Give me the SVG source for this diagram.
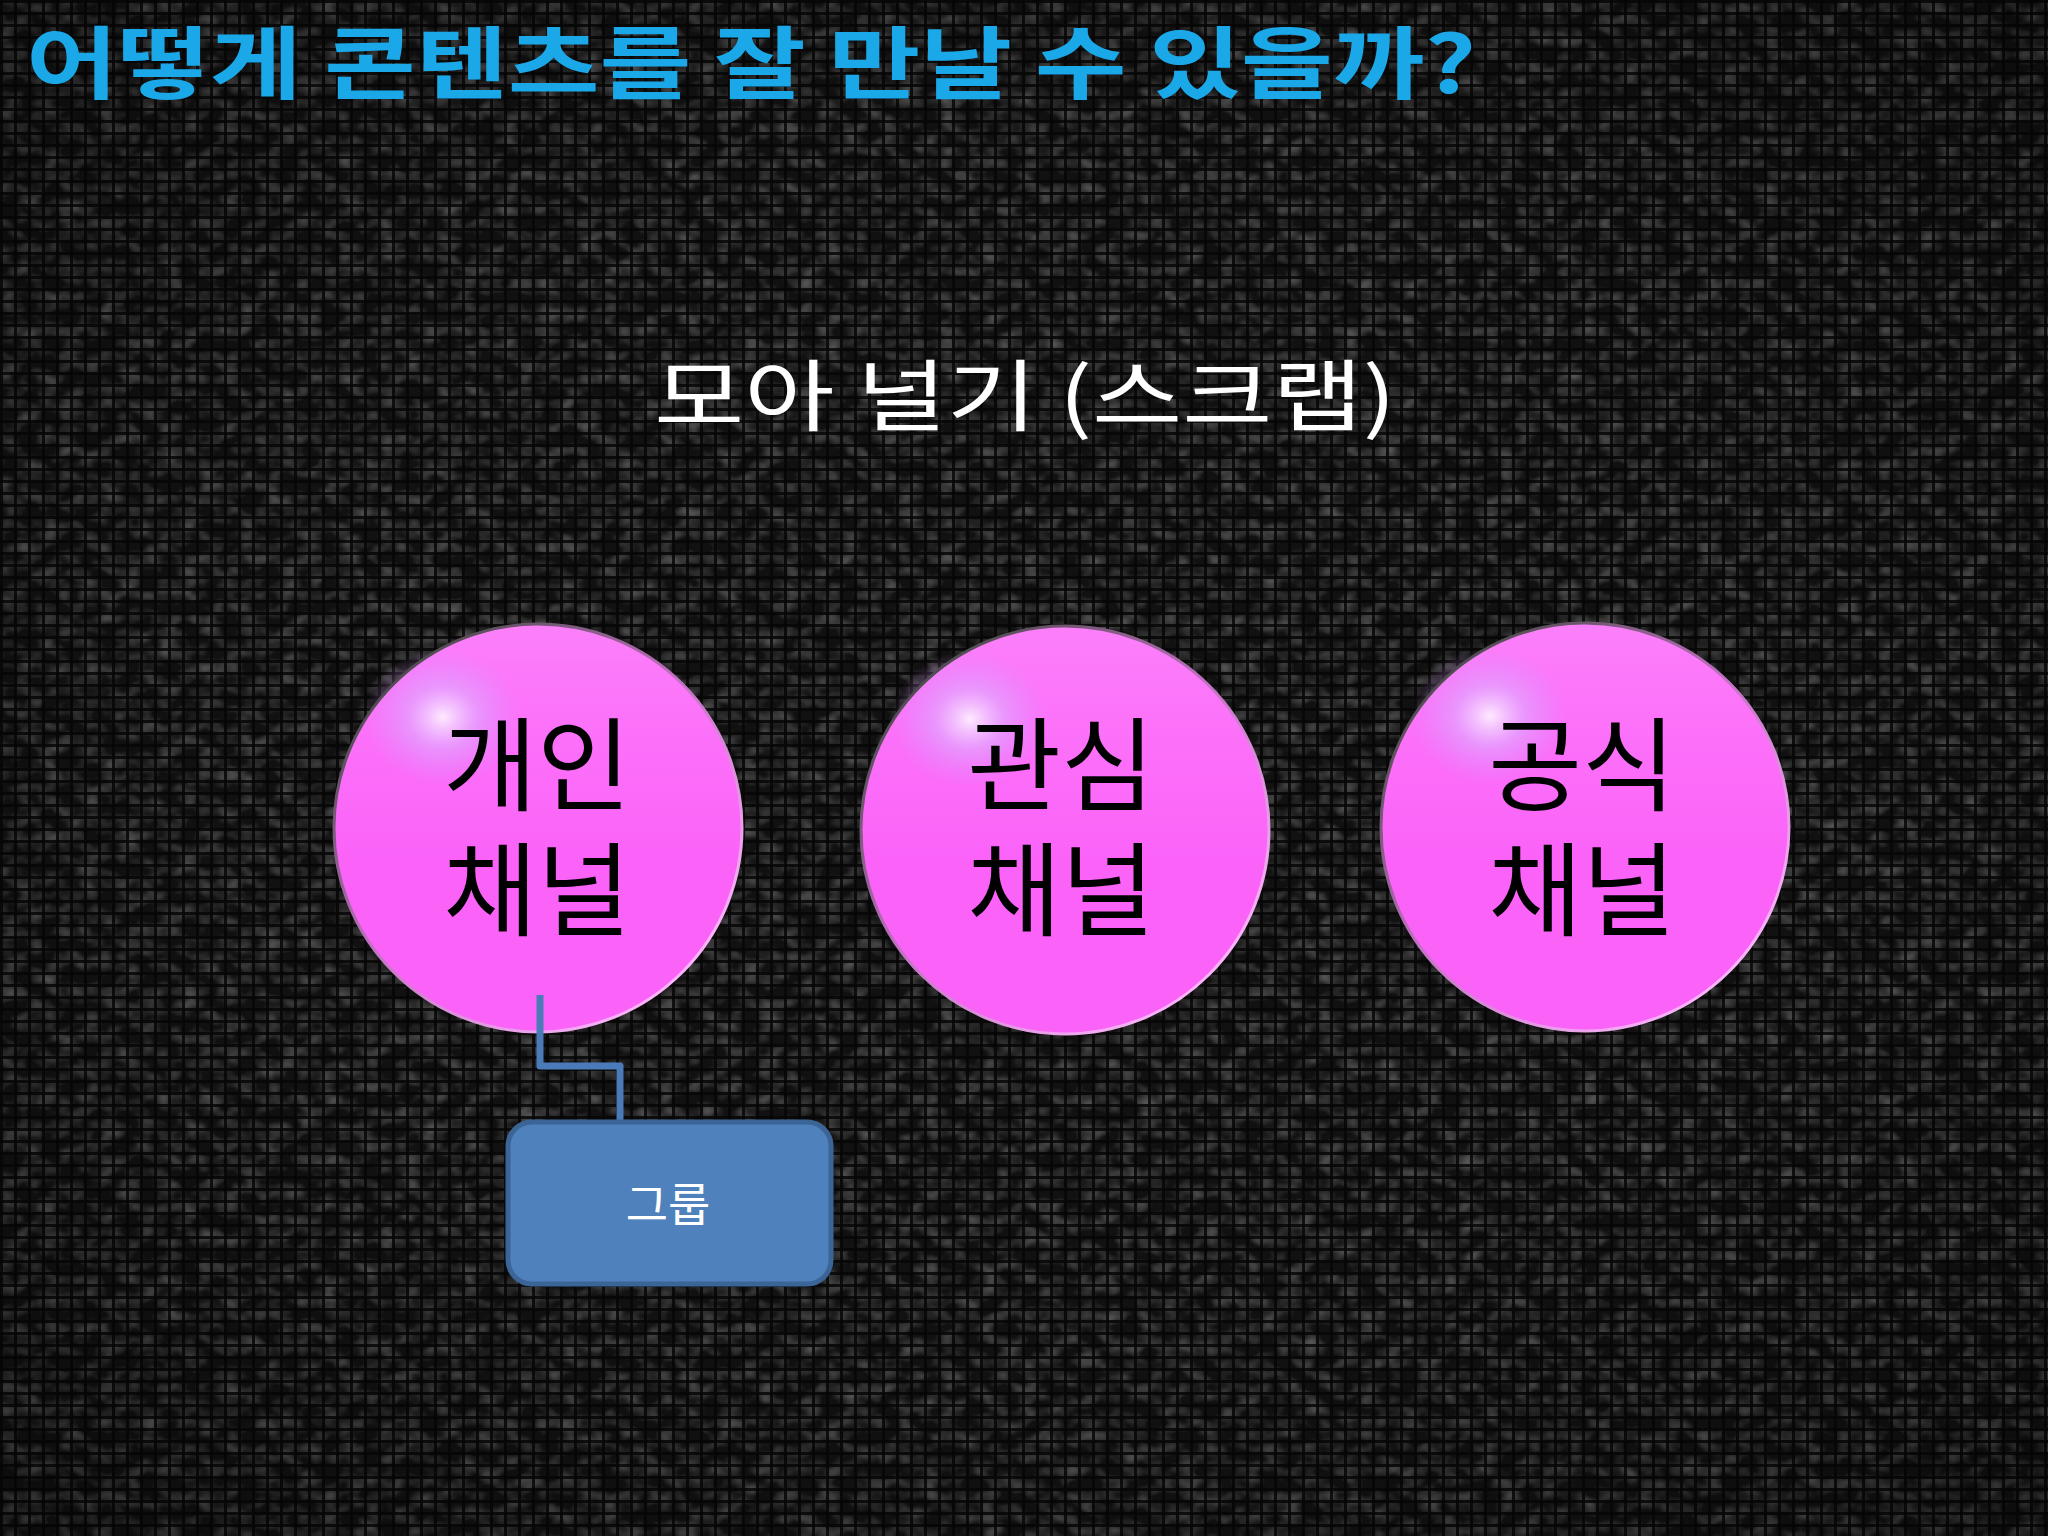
<svg xmlns="http://www.w3.org/2000/svg" width="2048" height="1536" viewBox="0 0 2048 1536">
<style>
.title{font-family:"Noto Sans CJK KR","Liberation Sans",sans-serif;font-weight:bold;font-size:79px;fill:#1aa8e8}
.sub{font-family:"Noto Sans CJK KR","Liberation Sans",sans-serif;font-size:78px;fill:#ffffff}
.ball{font-family:"Noto Sans CJK KR","Liberation Sans",sans-serif;font-size:102px;fill:#000000;text-anchor:middle}
.box{font-family:"Noto Sans CJK KR","Liberation Sans",sans-serif;font-size:46px;fill:#ffffff;text-anchor:middle}
.base{fill:#fb62f8}
.gloss{fill:url(#gloss)}
.hl{fill:url(#hl)}
.rim{fill:none;stroke:url(#rim);stroke-width:3}
.conn{fill:none;stroke:#4a7ab8;stroke-width:7;stroke-linejoin:round}
</style>
<defs>
<filter id="noise" x="0" y="0" width="2048" height="1536" filterUnits="userSpaceOnUse">
<feTurbulence type="fractalNoise" baseFrequency="0.05 0.065" numOctaves="2" seed="7"/>
<feColorMatrix type="matrix" values="0 0 0 0 0.26  0 0 0 0 0.26  0 0 0 0 0.26  1.1 0 0 0 -0.42"/>
</filter>
<pattern id="grid" width="14" height="12" patternUnits="userSpaceOnUse">
<rect x="0" y="0" width="14" height="3" fill="#060606" fill-opacity="0.85"/>
<rect x="0" y="0" width="3" height="12" fill="#060606" fill-opacity="0.85"/>
</pattern>
<radialGradient id="vig" cx="0.5" cy="0.5" r="0.75">
<stop offset="0.5" stop-color="#000" stop-opacity="0"/>
<stop offset="1" stop-color="#000" stop-opacity="0.3"/>
</radialGradient>
<linearGradient id="gloss" x1="0" y1="0" x2="0" y2="1">
<stop offset="0" stop-color="#ffb8ff" stop-opacity="0.35"/>
<stop offset="0.5" stop-color="#ffa0ff" stop-opacity="0.08"/>
<stop offset="0.6" stop-color="#ff80ff" stop-opacity="0"/>
</linearGradient>
<radialGradient id="hl" cx="0.5" cy="0.5" r="0.5">
<stop offset="0" stop-color="#fff0ff" stop-opacity="0.95"/>
<stop offset="0.45" stop-color="#e0a8ff" stop-opacity="0.65"/>
<stop offset="1" stop-color="#d890ff" stop-opacity="0"/>
</radialGradient>
<linearGradient id="rim" x1="0.15" y1="0.1" x2="0.85" y2="0.9">
<stop offset="0" stop-color="#4a4a4a"/>
<stop offset="0.45" stop-color="#c070c0"/>
<stop offset="1" stop-color="#ffb8ff"/>
</linearGradient>
</defs>

<g id="background">
<rect width="2048" height="1536" fill="#111111"/>
<rect width="2048" height="1536" filter="url(#noise)"/>
<rect width="2048" height="1536" fill="url(#grid)"/>
<rect width="2048" height="1536" fill="url(#vig)"/>
</g>

<g id="title">
<text class="title" x="26" y="93" textLength="1450" lengthAdjust="spacingAndGlyphs">어떻게 콘텐츠를 잘 만날 수 있을까?</text>
</g>

<g id="subtitle">
<text class="sub" x="654" y="425" textLength="742" lengthAdjust="spacingAndGlyphs">모아 널기 (스크랩)</text>
</g>

<g id="node-personal">
<circle class="base" cx="538" cy="828" r="204"/>
<circle class="gloss" cx="538" cy="828" r="204"/>
<ellipse class="hl" cx="443" cy="717" rx="78" ry="68"/>
<circle class="rim" cx="538" cy="828" r="204"/>
<text class="ball" x="537" y="803">개인<tspan x="537" dy="125">채널</tspan></text>
</g>

<g id="node-interest">
<circle class="base" cx="1065" cy="830" r="204"/>
<circle class="gloss" cx="1065" cy="830" r="204"/>
<ellipse class="hl" cx="970" cy="719" rx="78" ry="68"/>
<circle class="rim" cx="1065" cy="830" r="204"/>
<text class="ball" x="1061" y="803">관심<tspan x="1061" dy="125">채널</tspan></text>
</g>

<g id="node-official">
<circle class="base" cx="1585" cy="827" r="204"/>
<circle class="gloss" cx="1585" cy="827" r="204"/>
<ellipse class="hl" cx="1490" cy="716" rx="78" ry="68"/>
<circle class="rim" cx="1585" cy="827" r="204"/>
<text class="ball" x="1582" y="803">공식<tspan x="1582" dy="125">채널</tspan></text>
</g>

<g id="connectors">
<polyline class="conn" points="540,995 540,1066 620,1066 620,1123"/>
</g>

<g id="node-group">
<rect x="508" y="1122" width="323" height="162" rx="24" ry="24" fill="#4f81bd" stroke="#3b6596" stroke-width="5"/>
<text class="box" x="668" y="1221">그룹</text>
</g>
</svg>
